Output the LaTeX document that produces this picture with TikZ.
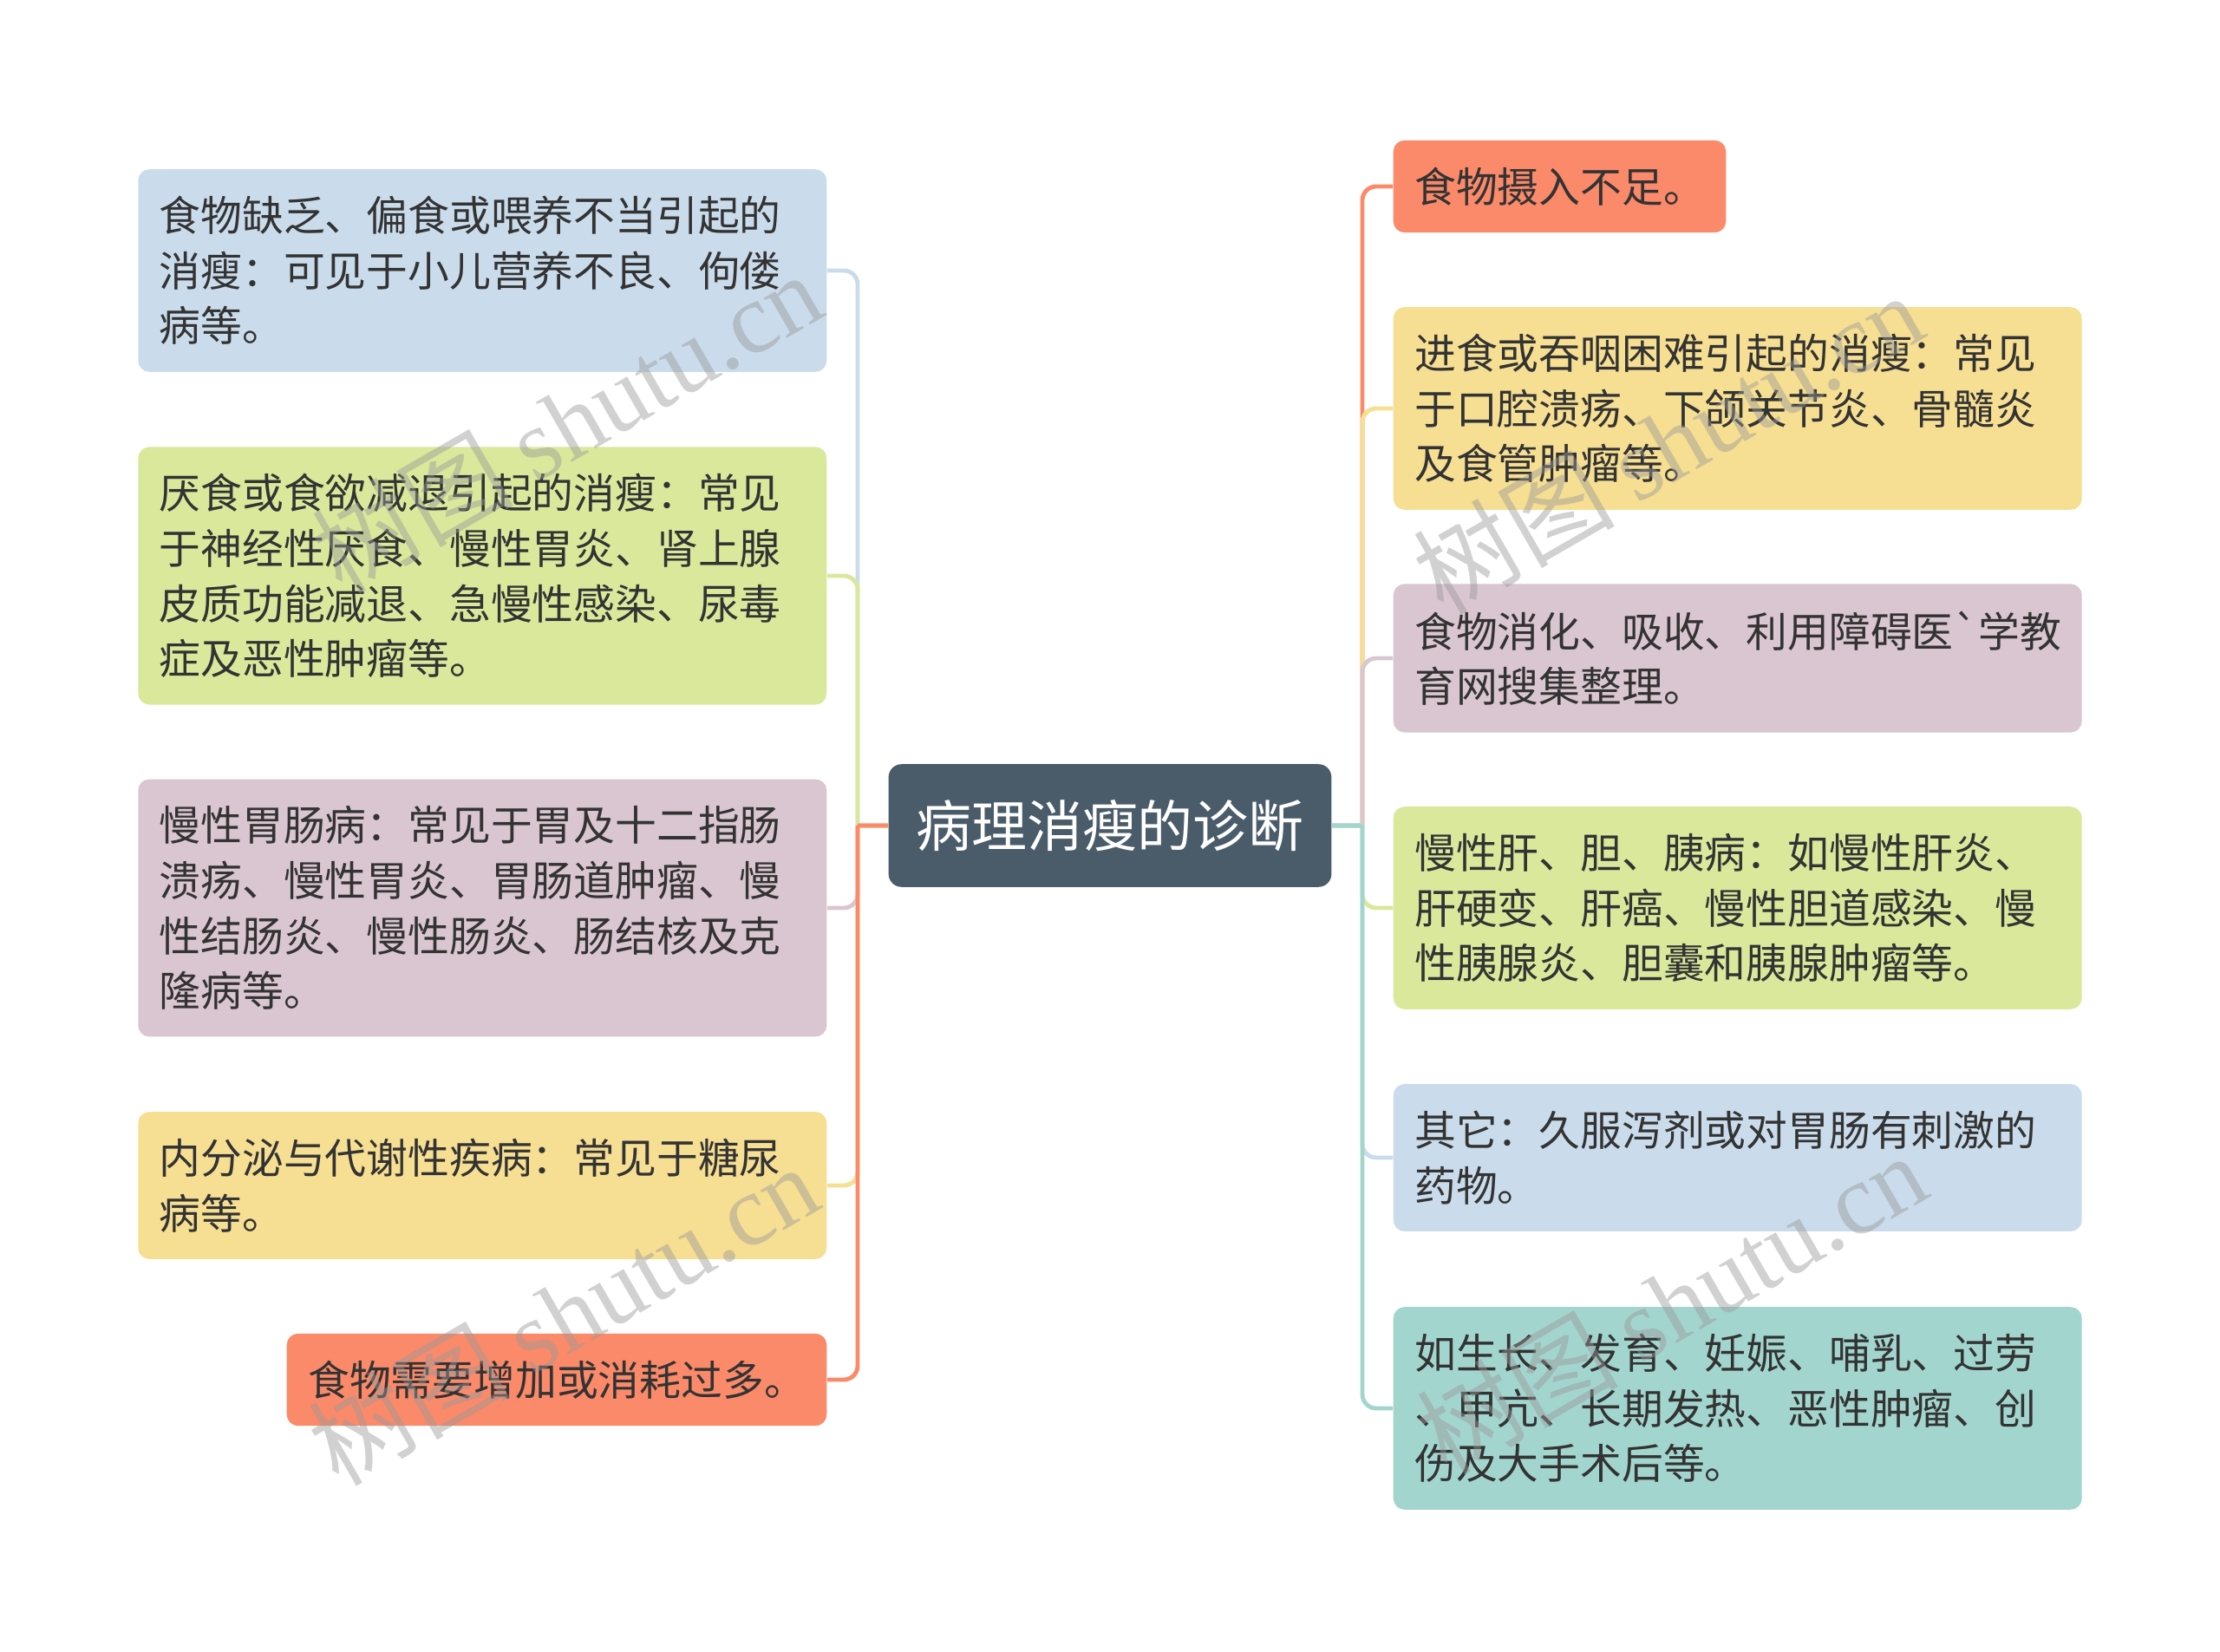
\documentclass[tikz,border=0pt]{standalone}
\usepackage{fontspec}
\newfontfamily\cjk{Noto Sans CJK SC}[Ligatures=TeXOff]
\newfontfamily\wmlat{Liberation Serif}
\definecolor{cCen}{HTML}{4A5B6A}
\definecolor{cTxt}{HTML}{333333}
\definecolor{cBlu}{HTML}{CADCEC}
\definecolor{cGrn}{HTML}{DAE89C}
\definecolor{cMau}{HTML}{D9C6D0}
\definecolor{cYel}{HTML}{F6DF92}
\definecolor{cOra}{HTML}{FA8A6A}
\definecolor{cTea}{HTML}{A3D5CF}
\begin{document}
\begin{tikzpicture}[box/.style={rounded corners=.13cm,inner xsep=.245cm,inner ysep=.31cm,align=left,text=cTxt,font={\cjk\fontsize{13.6pt}{18.1pt}\selectfont}},
wide/.style={box,text width=7.45cm},
ln/.style={line width=1.4pt,rounded corners=.16cm},
wm/.style={rotate=30,text=black!40,opacity=.45,font={\fontsize{33pt}{33pt}\selectfont}}]
\useasboundingbox (0,0) rectangle (25.6,19.04);
% centre
\node[box,fill=cCen,text=white,inner xsep=.315cm,inner ysep=.41cm,rounded corners=.15cm,font={\cjk\fontsize{18.2pt}{22pt}\selectfont}] (c) at (12.80,9.52) {病理消瘦的诊断};
\coordinate (bl) at (9.89,9.52);
\coordinate (br) at (15.71,9.52);
% left
\node[wide,fill=cBlu,anchor=east] (l1) at (9.54,15.92) {食物缺乏、偏食或喂养不当引起的\\消瘦：可见于小儿营养不良、佝偻\\病等。};
\node[wide,fill=cGrn,anchor=east] (l2) at (9.54,12.40) {厌食或食欲减退引起的消瘦：常见\\于神经性厌食、慢性胃炎、肾上腺\\皮质功能减退、急慢性感染、尿毒\\症及恶性肿瘤等。};
\node[wide,fill=cMau,anchor=east] (l3) at (9.54,8.57) {慢性胃肠病：常见于胃及十二指肠\\溃疡、慢性胃炎、胃肠道肿瘤、慢\\性结肠炎、慢性肠炎、肠结核及克\\隆病等。};
\node[wide,fill=cYel,anchor=east] (l4) at (9.54,5.37) {内分泌与代谢性疾病：常见于糖尿\\病等。};
\node[box,fill=cOra,anchor=east] (l5) at (9.54,3.13) {食物需要增加或消耗过多。};
% right
\node[box,fill=cOra,anchor=west] (r1) at (16.06,16.89) {食物摄入不足。};
\node[wide,fill=cYel,anchor=west] (r2) at (16.06,14.33) {进食或吞咽困难引起的消瘦：常见\\于口腔溃疡、下颌关节炎、骨髓炎\\及食管肿瘤等。};
\node[wide,fill=cMau,anchor=west] (r3) at (16.06,11.45) {食物消化、吸收、利用障碍医`学教\\育网搜集整理。};
\node[wide,fill=cGrn,anchor=west] (r4) at (16.06,8.57) {慢性肝、胆、胰病：如慢性肝炎、\\肝硬变、肝癌、慢性胆道感染、慢\\性胰腺炎、胆囊和胰腺肿瘤等。};
\node[wide,fill=cBlu,anchor=west] (r5) at (16.06,5.69) {其它：久服泻剂或对胃肠有刺激的\\药物。};
\node[wide,fill=cTea,anchor=west] (r6) at (16.06,2.80) {如生长、发育、妊娠、哺乳、过劳\\、甲亢、长期发热、恶性肿瘤、创\\伤及大手术后等。};
% connectors
\foreach \n/\k in {l1/cBlu,l2/cGrn,l3/cMau,l4/cYel,l5/cOra}
  \draw[ln,\k] (c.west) -- (bl) (bl) |- (\n.east);
\foreach \n/\k in {r1/cOra,r2/cYel,r3/cMau,r4/cGrn,r5/cBlu,r6/cTea}
  \draw[ln,\k] (c.east) -- (br) (br) |- (\n.west);
% watermarks
\path (6.53,14.18) node[wm]{\cjk 树图 \wmlat shutu.cn} (19.23,13.94) node[wm]{\cjk 树图 \wmlat shutu.cn}
(6.49,3.89) node[wm]{\cjk 树图 \wmlat shutu.cn} (19.27,4.02) node[wm]{\cjk 树图 \wmlat shutu.cn};
\end{tikzpicture}
\end{document}
